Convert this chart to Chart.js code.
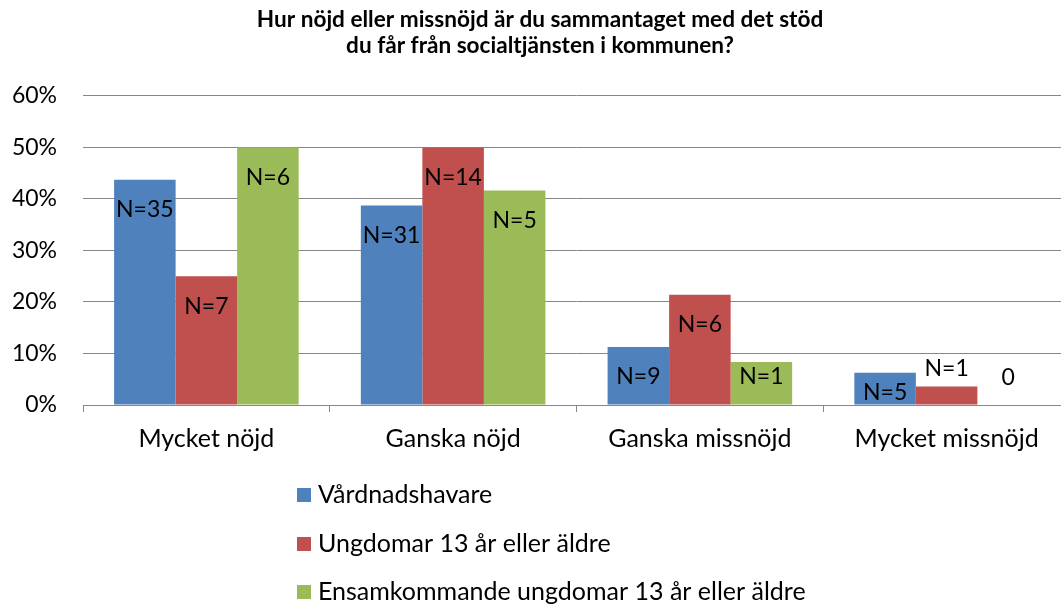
<!DOCTYPE html>
<html>
<head>
<meta charset="utf-8">
<script src="https://cdn.jsdelivr.net/npm/chart.js@4.4.1/dist/chart.umd.min.js"></script>
<style>
  html, body { margin: 0; padding: 0; background: #fff; overflow: hidden; }
  #wrap { position: relative; width: 1080px; height: 604px; }
</style>
</head>
<body>
<div id="wrap"><canvas id="c" width="1080" height="604"></canvas></div>
<script>
// ---- data ----
const categories = ["Mycket nöjd", "Ganska nöjd", "Ganska missnöjd", "Mycket missnöjd"];
const seriesNames = ["Vårdnadshavare", "Ungdomar 13 år eller äldre", "Ensamkommande ungdomar 13 år eller äldre"];
const vardnadshavare = [43.75, 38.75, 11.25, 6.25];
const ungdomar = [25.0, 50.0, 21.43, 3.57];
const ensamkommande = [50.0, 41.67, 8.33, 0];
const labelsVardnadshavare = ["N=35", "N=31", "N=9", "N=5"];
const labelsUngdomar = ["N=7", "N=14", "N=6", "N=1"];
const labelsEnsamkommande = ["N=6", "N=5", "N=1", "0"];
const yTicks = [0, 10, 20, 30, 40, 50, 60];
const titleLines = ["Hur nöjd eller missnöjd är du sammantaget med det stöd", "du får från socialtjänsten i kommunen?"];

const colors = ["#4F81BD", "#C0504D", "#9BBB59"];
const FONT = "Lato, 'Open Sans', sans-serif";

const barLabelsPlugin = {
  id: 'barLabels',
  afterDatasetsDraw(chart) {
    const ctx = chart.ctx;
    ctx.save();
    ctx.font = "23px " + FONT;
    ctx.fillStyle = "#000";
    ctx.textAlign = "center";
    ctx.textBaseline = "middle";
    chart.data.datasets.forEach((ds, di) => {
      const meta = chart.getDatasetMeta(di);
      meta.data.forEach((bar, i) => {
        const txt = ds.valueLabels[i];
        const top = bar.y, bottom = bar.base;
        const h = bottom - top;
        let y;
        if (h >= 40) y = Math.min(top + 30, bottom - 28);
        else if (h >= 25) y = (top + bottom) / 2 + 4;
        else y = Math.min(top - 18, bottom - 27);
        ctx.fillText(txt, bar.x, y);
      });
    });
    ctx.restore();
  }
};

const legendPlugin = {
  id: 'vertLegend',
  afterDraw(chart) {
    const ctx = chart.ctx;
    ctx.save();
    ctx.font = "25px " + FONT;
    ctx.textAlign = "left";
    ctx.textBaseline = "middle";
    const rows = [495, 544, 592];
    chart.data.datasets.forEach((ds, di) => {
      const y = rows[di];
      ctx.fillStyle = ds.backgroundColor;
      ctx.fillRect(297, y - 7, 14, 14);
      ctx.fillStyle = "#000";
      ctx.fillText(ds.label, 318, y);
    });
    ctx.restore();
  }
};

new Chart(document.getElementById('c'), {
  type: 'bar',
  data: {
    labels: categories,
    datasets: [
      { label: seriesNames[0], data: vardnadshavare, valueLabels: labelsVardnadshavare, backgroundColor: colors[0] },
      { label: seriesNames[1], data: ungdomar, valueLabels: labelsUngdomar, backgroundColor: colors[1] },
      { label: seriesNames[2], data: ensamkommande, valueLabels: labelsEnsamkommande, backgroundColor: colors[2] }
    ]
  },
  options: {
    responsive: false,
    maintainAspectRatio: false,
    animation: false,
    devicePixelRatio: 1,
    layout: { padding: { left: 10, right: 10, top: 0, bottom: 130 } },
    datasets: { bar: { categoryPercentage: 0.748, barPercentage: 1.0 } },
    plugins: {
      legend: { display: false },
      tooltip: { enabled: false },
      title: {
        display: true,
        text: titleLines,
        color: "#000",
        font: { family: FONT, size: 22.6, weight: 'bold', lineHeight: 1.15 },
        padding: { top: 7, bottom: 37 }
      }
    },
    scales: {
      x: {
        grid: { offset: true, drawOnChartArea: false, drawTicks: true, tickLength: 7, color: "#868686" },
        border: { display: true, color: "#868686", width: 1 },
        ticks: { color: "#000", font: { family: FONT, size: 25 }, padding: 12, maxRotation: 0, autoSkip: false },
        afterFit(scale) { scale.height = 69; }
      },
      y: {
        min: 0, max: 60,
        afterBuildTicks(scale) { scale.ticks = yTicks.map(v => ({ value: v })); },
        grid: { color: "#868686", drawTicks: false, lineWidth: 1 },
        border: { display: false },
        ticks: { color: "#000", font: { family: FONT, size: 23 }, padding: 26, callback: v => v + "%" },
        afterFit(scale) { scale.width = 73; }
      }
    }
  },
  plugins: [barLabelsPlugin, legendPlugin]
});
</script>
</body>
</html>
